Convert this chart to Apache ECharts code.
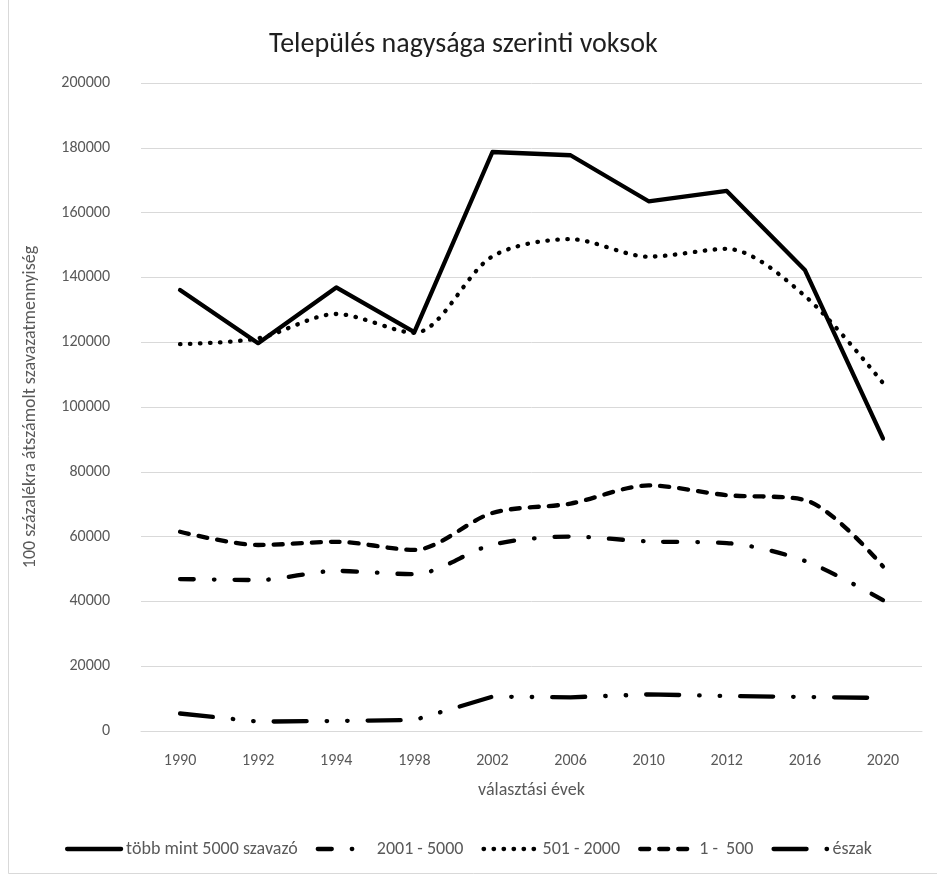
<!DOCTYPE html>
<html>
<head>
<meta charset="utf-8">
<script src="https://cdn.jsdelivr.net/npm/echarts@6/dist/echarts.min.js"></script>
<style>
  html, body { margin: 0; padding: 0; background: #fff; }
  #chart { width: 937px; height: 876px; }
</style>
</head>
<body>
<div id="chart"></div>
<script>
const years = ['1990', '1992', '1994', '1998', '2002', '2006', '2010', '2012', '2016', '2020'];
const over5000 = [136100, 119700, 136900, 123100, 178700, 177700, 163500, 166700, 142300, 90300];
const from2001to5000 = [46900, 46600, 49400, 48400, 57500, 60000, 58500, 58000, 52500, 40400];
const from501to2000 = [119400, 121200, 128700, 122900, 146500, 151800, 146400, 148800, 134300, 107400];
const from1to500 = [61500, 57400, 58400, 55900, 67300, 70200, 75800, 72800, 71300, 50800];
const north = [5400, 2900, 3100, 3400, 10600, 10400, 11300, 10800, 10500, 10200];

const seriesNames = ['több mint 5000 szavazó', '2001 - 5000', '501 - 2000', '1 -  500', 'észak'];

const font = 'Carlito, Lato, sans-serif';
const chart = echarts.init(document.getElementById('chart'));

const mkLine = (name, data, dash, smooth) => ({
  name,
  type: 'line',
  data,
  symbol: 'none',
  color: '#000',
  smooth: smooth ? 0.3 : false,
  itemStyle: { color: '#000' },
  lineStyle: { color: '#000', width: 4.3, type: dash, cap: 'round', join: 'round' },
  emphasis: { disabled: true },
});

chart.setOption({
  animation: false,
  backgroundColor: '#fff',
  title: {
    text: 'Település nagysága szerinti voksok',
    left: 264,
    top: 26,
    textStyle: { fontFamily: font, fontSize: 28, fontWeight: 'normal', color: '#1f1f1f' },
  },
  grid: { left: 141, right: 15, top: 83, bottom: 145 },
  legend: {
    bottom: 13,
    left: 'center',
    itemWidth: 54,
    itemHeight: 10,
    itemGap: 18,
    itemStyle: { opacity: 0 },
    lineStyle: { width: 4.3 },
    textStyle: { fontFamily: font, fontSize: 18, color: '#595959' },
    data: seriesNames,
  },
  xAxis: {
    type: 'category',
    data: years,
    boundaryGap: true,
    name: 'választási évek',
    nameLocation: 'middle',
    nameGap: 50,
    nameTextStyle: { fontFamily: font, fontSize: 18, color: '#595959' },
    axisLine: { lineStyle: { color: '#d9d9d9', width: 1 } },
    axisTick: { show: false },
    axisLabel: { fontFamily: font, fontSize: 16, color: '#595959', margin: 22 },
  },
  yAxis: {
    type: 'value',
    min: 0,
    max: 200000,
    interval: 20000,
    name: '100 százalékra átszámolt szavazatmennyiség',
    nameLocation: 'middle',
    nameGap: 102,
    nameTextStyle: { fontFamily: font, fontSize: 18, color: '#595959' },
    axisLine: { show: false },
    axisTick: { show: false },
    axisLabel: { fontFamily: font, fontSize: 16, color: '#595959', margin: 31, formatter: (v) => String(v) },
    splitLine: { lineStyle: { color: '#d9d9d9', width: 1 } },
  },
  graphic: [{
    type: 'rect',
    shape: { x: 8.5, y: -2, width: 940, height: 875.5 },
    style: { fill: 'none', stroke: '#d9d9d9', lineWidth: 1 },
    silent: true,
  }],
  series: [
    mkLine(seriesNames[0], over5000, 'solid', false),
    mkLine(seriesNames[1], from2001to5000, [14, 20, 0.5, 20], true),
    mkLine(seriesNames[2], from501to2000, [0.5, 9.5], true),
    mkLine(seriesNames[3], from1to500, [9, 10], true),
    mkLine(seriesNames[4], north, [33, 20, 0.5, 20, 0.5, 20], false),
  ],
});
</script>
</body>
</html>
